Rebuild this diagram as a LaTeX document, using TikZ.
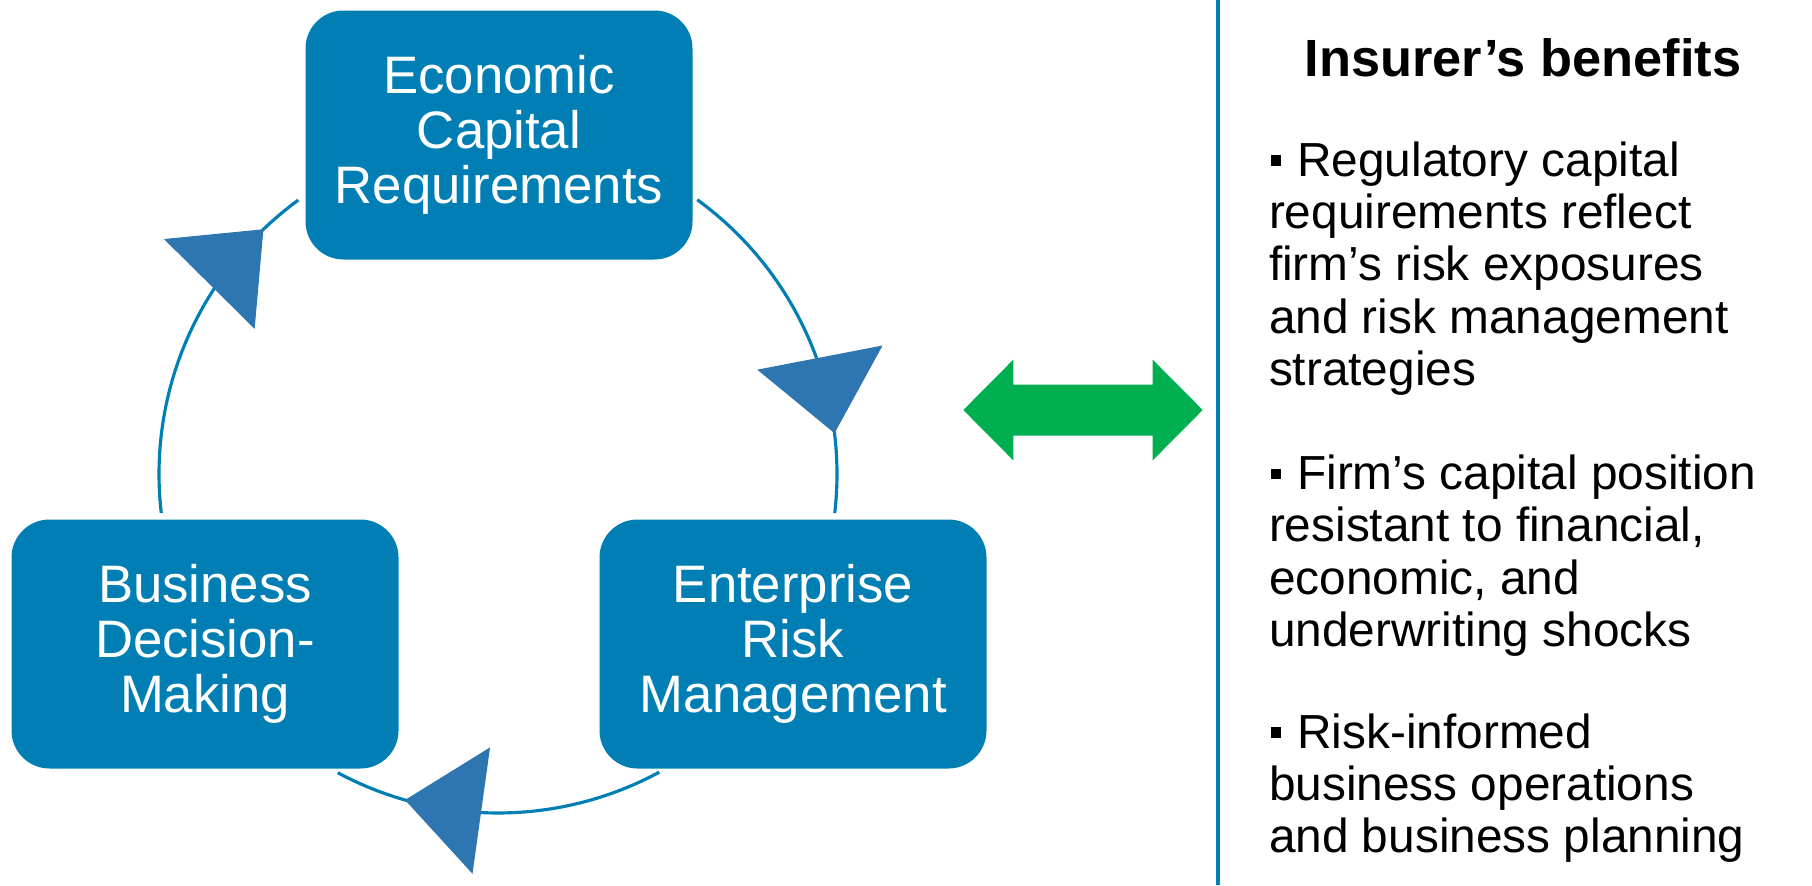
\documentclass[tikz,border=0pt]{standalone}
\usepackage{fontspec}
\setmainfont{Liberation Sans}
\usepackage{tikz}
\usetikzlibrary{arrows.meta, positioning, calc, decorations.markings}
\definecolor{boxblue}{RGB}{1, 127, 180}
\definecolor{tipblue}{RGB}{46, 118, 177}
\definecolor{swapgreen}{RGB}{0, 176, 80}
\newcommand{\benefitbullet}{\hspace{0.05em}\rule[0.22em]{0.21em}{0.21em}\hspace{0.33em}}

\begin{document}
\begin{tikzpicture}[
    stagebox/.style={draw=none, fill=boxblue, text=white, rounded corners=0.38cm,
        minimum width=3.87cm, minimum height=2.49cm, align=center,
        font=\fontsize{15pt}{15.65pt}\selectfont},
    flowarc/.style 2 args={draw=boxblue, line width=0.9pt, postaction={decorate},
        decoration={markings, mark=at position #1 with
            {\pgftransformrotate{#2}\arrow{Triangle[length=7.7mm, width=12.7mm, color=tipblue]}}}},
    benefit/.style={anchor=north west, inner sep=0pt, align=left,
        font=\fontsize{13.6pt}{14.9pt}\selectfont}
]
    \useasboundingbox (0,0) rectangle (18.12,8.85);

    % The Cycle - three stages
    \node[stagebox] (capital) at (4.99,7.50) {Economic\\Capital\\Requirements};
    \node[stagebox] (erm) at (7.93,2.41) {Enterprise\\Risk\\Management};
    \node[stagebox] (decision) at (2.05,2.41) {Business\\Decision-\\Making};

    % Arcs round the hub, clockwise
    \coordinate (hub) at (4.98,4.11);
    \foreach \a/\b/\p/\t in {54/-6.6/0.777/4, -61.6/-118.2/0.783/8, 186.6/126.1/0.873/1.5} {
        \draw[flowarc={\p}{\t}] ($(hub)+(\a:3.39)$) arc[start angle=\a, end angle=\b, radius=3.39];
    }

    % Two-way link
    \coordinate (swap) at (10.83,4.75);
    \fill[swapgreen, shift={(swap)}] (-1.197,0) -- (-0.697,0.5035) -- (-0.697,0.255)
        -- (0.697,0.255) -- (0.697,0.5035) -- (1.197,0) -- (0.697,-0.5035)
        -- (0.697,-0.255) -- (-0.697,-0.255) -- (-0.697,-0.5035) -- cycle;

    % Divider
    \draw[boxblue, line width=1pt] (12.18,0) -- (12.18,8.85);

    % Insurer's side
    \node[anchor=base, inner sep=0pt, font=\fontsize{14.9pt}{16pt}\selectfont\bfseries]
        (title) at (15.23,8.083) {Insurer’s benefits};
    \node[benefit] (regulatory) at (12.683,7.443)
        {\benefitbullet Regulatory capital\\requirements reflect\\firm’s risk exposures\\and risk management\\strategies};
    \node[benefit] (position) at (12.683,4.308)
        {\benefitbullet Firm’s capital position\\resistant to financial,\\economic, and\\underwriting shocks};
    \node[benefit] (operations) at (12.683,1.723)
        {\benefitbullet Risk-informed\\business operations\\and business planning};
\end{tikzpicture}
\end{document}
